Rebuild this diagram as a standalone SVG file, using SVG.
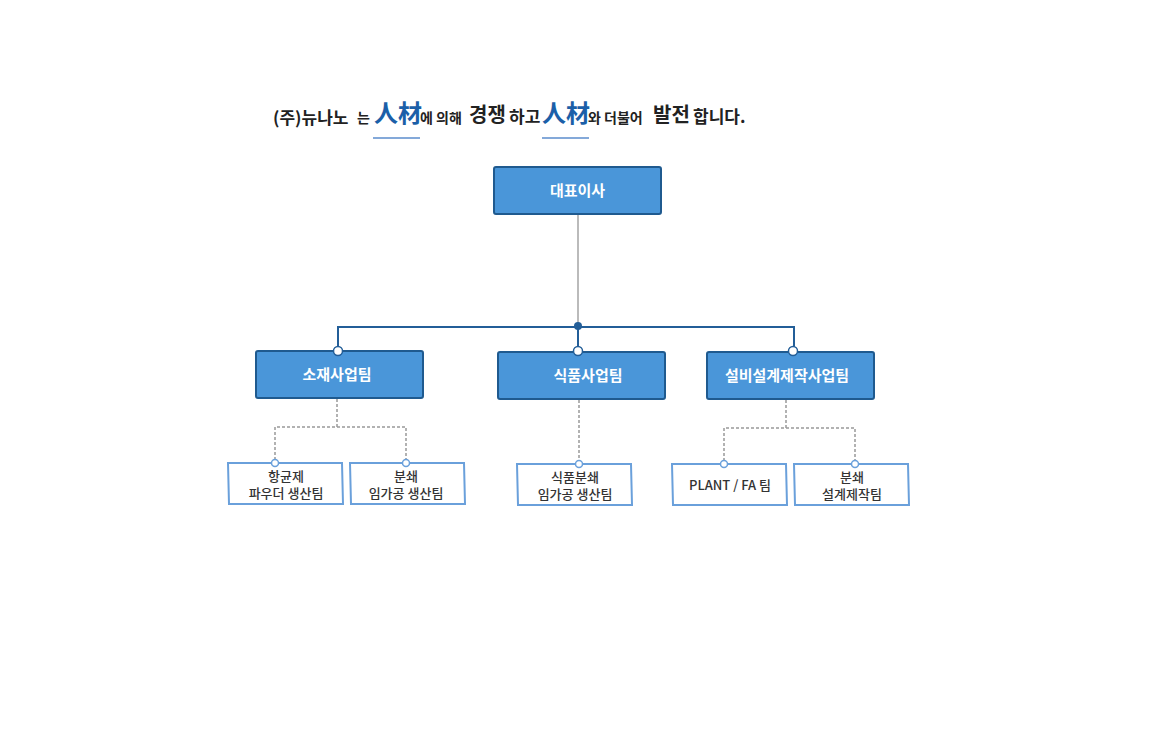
<svg xmlns="http://www.w3.org/2000/svg" width="1160" height="738" viewBox="0 0 1160 738">
<style>
text{font-family:"Noto Sans CJK KR","Noto Sans",sans-serif}
.t{font-size:17px;font-weight:700;fill:#222}
.big{font-size:24px;font-weight:700;fill:#1b5fa8}
.mid{font-size:20px;font-weight:700;fill:#222}
.sm{font-size:14px;font-weight:700;fill:#222}
.box{fill:#4a96d9;stroke:#1f5a8f;stroke-width:2}
.bt{font-size:15px;font-weight:700;fill:#fff}
.sub{fill:#fff;stroke:#6aa0db;stroke-width:2}
.st{font-size:13px;font-weight:500;fill:#333}
.solid{fill:none;stroke:#235e98;stroke-width:2}
.dash{fill:none;stroke:#999;stroke-width:1.5;stroke-dasharray:3 2}
.o{fill:#fff;stroke:#235e98;stroke-width:1.5}
.os{fill:#fff;stroke:#6aa0db;stroke-width:1.5}
</style>
<g id="title">
<text x="273" y="124" class="t">(주)뉴나노</text>
<text x="357" y="123" class="sm">는</text>
<text x="374" y="122" class="big">人材</text>
<text x="420" y="123" class="sm">에 의해</text>
<text x="469" y="122" class="mid">경쟁</text>
<text x="509" y="123" class="t">하고</text>
<text x="542" y="122" class="big">人材</text>
<text x="588" y="123" class="sm">와 더불어</text>
<text x="653" y="122" class="mid">발전</text>
<text x="693" y="123" class="t">합니다.</text>
<line x1="373" y1="138" x2="420" y2="138" stroke="#5b8ccc" stroke-width="1.5"/>
<line x1="542" y1="138" x2="589" y2="138" stroke="#5b8ccc" stroke-width="1.5"/>
</g>
<g id="connectors">
<line x1="578" y1="214" x2="578" y2="326" stroke="#bbb" stroke-width="2"/>
<path class="solid" d="M338 351V327H794V351M578 327V351"/>
<circle cx="578" cy="326" r="4" fill="#235e98"/>
<path class="dash" d="M337 399V427H275V463M337 427H406V463"/>
<path class="dash" d="M579 400V464"/>
<path class="dash" d="M786 400V428H724V464M786 428H855V464"/>
</g>
<g id="ceo"><rect class="box" x="494" y="167" width="167" height="47" rx="2"/><text x="577.5" y="196" class="bt" text-anchor="middle">대표이사</text></g>
<g id="n1"><rect class="box" x="256" y="351" width="167" height="47" rx="2"/><text x="337" y="380" class="bt" text-anchor="middle">소재사업팀</text></g>
<g id="n2"><rect class="box" x="498" y="352" width="167" height="47" rx="2"/><text x="588" y="381" class="bt" text-anchor="middle">식품사업팀</text></g>
<g id="n3"><rect class="box" x="707" y="352" width="167" height="47" rx="2"/><text x="787" y="381" class="bt" text-anchor="middle">설비설계제작사업팀</text></g>
<circle class="o" cx="338" cy="351" r="4.5"/><circle class="o" cx="578" cy="351" r="4.5"/><circle class="o" cx="793" cy="351" r="4.5"/>
<g id="s1"><polygon class="sub" points="228,463 342,463 343,504 229,504"/><text x="286" y="481" class="st" text-anchor="middle">항균제</text><text x="286" y="498" class="st" text-anchor="middle">파우더 생산팀</text></g>
<g id="s2"><polygon class="sub" points="350,463 464,463 465,504 351,504"/><text x="406" y="481" class="st" text-anchor="middle">분쇄</text><text x="406" y="498" class="st" text-anchor="middle">임가공 생산팀</text></g>
<g id="s3"><polygon class="sub" points="517,464 631,464 632,505 518,505"/><text x="575" y="482" class="st" text-anchor="middle">식품분쇄</text><text x="575" y="499" class="st" text-anchor="middle">임가공 생산팀</text></g>
<g id="s4"><polygon class="sub" points="672,464 786,464 787,505 673,505"/><text x="730" y="490" class="st" text-anchor="middle">PLANT / FA 팀</text></g>
<g id="s5"><polygon class="sub" points="794,464 908,464 909,505 795,505"/><text x="852" y="482" class="st" text-anchor="middle">분쇄</text><text x="852" y="499" class="st" text-anchor="middle">설계제작팀</text></g>
<circle class="os" cx="275" cy="463" r="3.5"/><circle class="os" cx="406" cy="463" r="3.5"/><circle class="os" cx="579" cy="464" r="3.5"/><circle class="os" cx="724" cy="464" r="3.5"/><circle class="os" cx="855" cy="464" r="3.5"/>
</svg>
